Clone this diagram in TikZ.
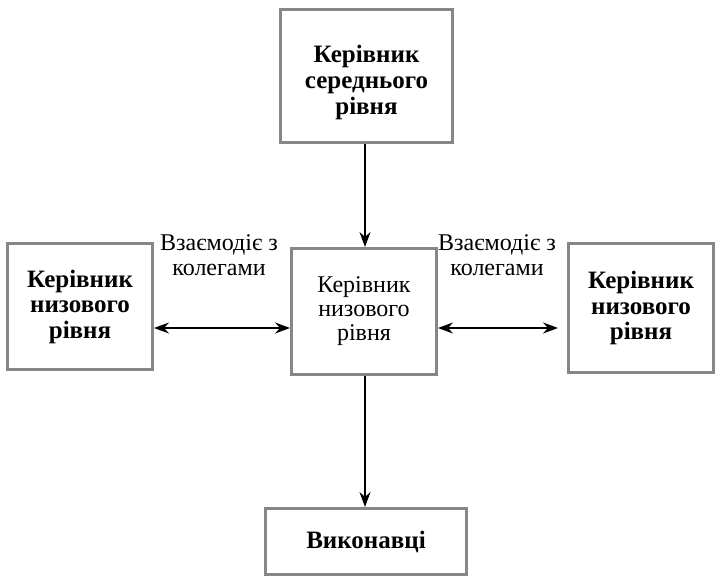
\documentclass[tikz,border=0pt]{standalone}
\usepackage{fontspec}
\setmainfont{Liberation Serif}
\usetikzlibrary{arrows.meta}
\begin{document}
\begin{tikzpicture}[x=1pt,y=-1pt,
  box/.style={draw=black!47,line width=3pt,fill=white,align=center,inner sep=0pt},
  bbox/.style={box,font=\fontsize{25}{25.5}\selectfont\bfseries},
  rbox/.style={box,font=\fontsize{24}{24}\selectfont},
  lab/.style={align=center,font=\fontsize{24}{25}\selectfont,inner sep=0pt},
  tip/.style={Stealth[length=15pt,width=11pt,inset=5pt]},
  arr/.style={-{Stealth[length=15pt,width=11pt,inset=5pt]},line width=1.4pt},
  darr/.style={{Stealth[length=15pt,width=11pt,inset=5pt]}-{Stealth[length=15pt,width=11pt,inset=5pt]},line width=1.4pt}]
\useasboundingbox (0,0) rectangle (719,577);
\node[box,minimum width=172pt,minimum height=133pt] (top) at (366.5,76) {};
\node[align=center,font=\fontsize{25}{26}\selectfont\bfseries,inner sep=0pt] (toptext) at (366.5,82) {Керівник\\середнього\\рівня};
\node[bbox,minimum width=145pt,minimum height=126pt] (left) at (80,306.5) {Керівник\\низового\\рівня};
\node[rbox,minimum width=145pt,minimum height=126pt] (mid) at (364,311.5) {Керівник\\низового\\рівня};
\node[bbox,minimum width=145pt,minimum height=129pt] (right) at (641,308) {Керівник\\низового\\рівня};
\node[bbox,minimum width=201pt,minimum height=66pt] (bot) at (366,541.5) {Виконавці};
\node[lab] (l1) at (219,255) {Взаємодіє з\\колегами};
\node[lab] (l2) at (497,255) {Взаємодіє з\\колегами};
\coordinate (hy) at (0,328);
\coordinate (rend) at (558,328);
\draw[arr] (top.south -| 365,0) -- (mid.north -| 365,0);
\draw[arr] (mid.south -| 365,0) -- (bot.north -| 365,0);
\draw[darr] (left.east |- hy) -- (mid.west |- hy);
\draw[darr] (mid.east |- hy) -- (rend);
\end{tikzpicture}
\end{document}
